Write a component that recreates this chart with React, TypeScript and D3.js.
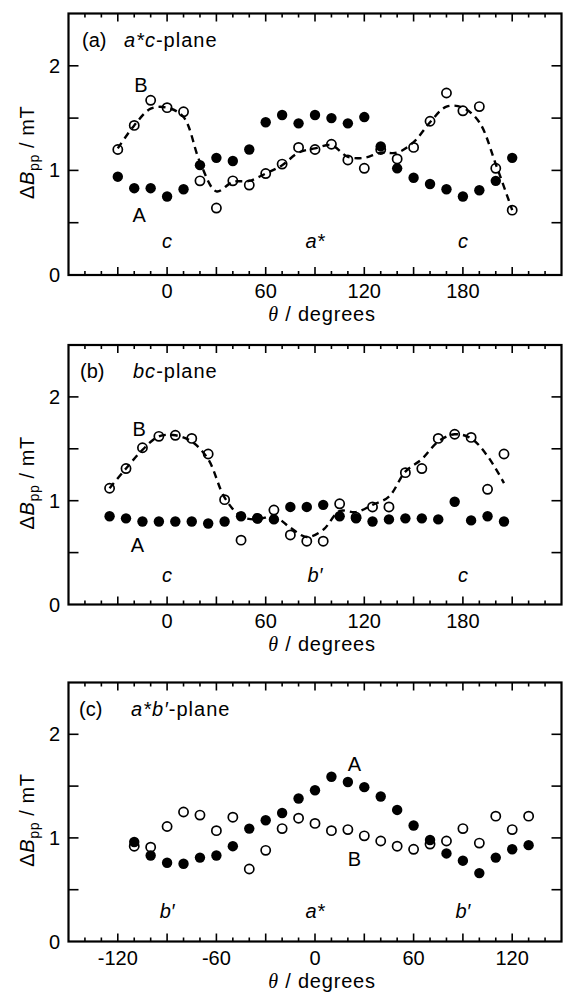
import React from "react"
import * as d3 from "d3"

// (a) a*c-plane
const acTheta = [-30, -20, -10, 0, 10, 20, 30, 40, 50, 60, 70, 80, 90, 100, 110, 120, 130, 140, 150, 160, 170, 180, 190, 200, 210]
const acA = [0.94, 0.83, 0.83, 0.75, 0.82, 1.05, 1.12, 1.09, 1.2, 1.46, 1.53, 1.45, 1.53, 1.5, 1.45, 1.51, 1.23, 1.02, 0.93, 0.87, 0.82, 0.75, 0.81, 0.9, 1.12]
const acB = [1.2, 1.43, 1.67, 1.6, 1.56, 0.9, 0.64, 0.9, 0.86, 0.97, 1.06, 1.22, 1.2, 1.25, 1.1, 1.02, 1.2, 1.11, 1.22, 1.47, 1.74, 1.57, 1.61, 1.02, 0.62]
const acFit = [1.21, 1.43, 1.59, 1.6, 1.51, 1.08, 0.8, 0.89, 0.9, 0.97, 1.05, 1.17, 1.21, 1.24, 1.13, 1.12, 1.17, 1.17, 1.27, 1.46, 1.61, 1.6, 1.46, 1.06, 0.62]

// (b) bc-plane
const bcTheta = [-35, -25, -15, -5, 5, 15, 25, 35, 45, 55, 65, 75, 85, 95, 105, 115, 125, 135, 145, 155, 165, 175, 185, 195, 205]
const bcA = [0.85, 0.83, 0.8, 0.8, 0.8, 0.8, 0.78, 0.8, 0.85, 0.83, 0.82, 0.94, 0.94, 0.96, 0.85, 0.83, 0.8, 0.82, 0.83, 0.83, 0.82, 0.99, 0.81, 0.85, 0.8]
const bcB = [1.12, 1.31, 1.51, 1.62, 1.63, 1.6, 1.45, 1.01, 0.62, 0.83, 0.91, 0.67, 0.61, 0.61, 0.97, 0.84, 0.94, 0.94, 1.27, 1.31, 1.6, 1.64, 1.61, 1.11, 1.45]
const bcFit = [1.12, 1.31, 1.49, 1.62, 1.63, 1.57, 1.4, 1.03, 0.85, 0.82, 0.85, 0.74, 0.65, 0.72, 0.9, 0.89, 0.96, 1.04, 1.28, 1.4, 1.57, 1.64, 1.6, 1.43, 1.17]

// (c) a*b'-plane
const abTheta = [-110, -100, -90, -80, -70, -60, -50, -40, -30, -20, -10, 0, 10, 20, 30, 40, 50, 60, 70, 80, 90, 100, 110, 120, 130]
const abA = [0.96, 0.83, 0.76, 0.75, 0.81, 0.83, 0.92, 1.09, 1.17, 1.24, 1.38, 1.46, 1.59, 1.54, 1.49, 1.4, 1.27, 1.12, 0.98, 0.85, 0.78, 0.66, 0.81, 0.89, 0.93]
const abB = [0.92, 0.91, 1.11, 1.25, 1.22, 1.07, 1.2, 0.7, 0.88, 1.09, 1.19, 1.14, 1.07, 1.08, 1.02, 0.97, 0.92, 0.89, 0.94, 0.97, 1.09, 0.95, 1.21, 1.08, 1.21]

const yTickLabels = [0, 1, 2]

const W = 564
const H = 992
const LEFT = 68.5
const RIGHT = 561.5
const FONT = "'Liberation Sans', Arial, Helvetica, sans-serif"

const panels = [
  {
    tag: "(a)", tagX: 82, titleX: 124, title: [["a*c", true], ["-plane", false]],
    top: 13.5, bottom: 275, xDomain: [-60, 240], xTicks: [0, 60, 120, 180],
    theta: acTheta, A: acA, B: acB, fit: acFit,
    notes: [["B", -16, 1.75, false], ["A", -17, 0.51, false], ["c", 0, 0.26, true], ["a*", 90, 0.26, true], ["c", 180, 0.26, true]],
  },
  {
    tag: "(b)", tagX: 80, titleX: 133, title: [["bc", true], ["-plane", false]],
    top: 345, bottom: 604.5, xDomain: [-60, 240], xTicks: [0, 60, 120, 180],
    theta: bcTheta, A: bcA, B: bcB, fit: bcFit,
    notes: [["B", -17, 1.62, false], ["A", -18, 0.51, false], ["c", 0, 0.22, true], ["b\u2032", 90, 0.22, true], ["c", 180, 0.22, true]],
  },
  {
    tag: "(c)", tagX: 79, titleX: 131, title: [["a*b\u2032", true], ["-plane", false]],
    top: 682.5, bottom: 941.5, xDomain: [-150, 150], xTicks: [-120, -60, 0, 60, 120],
    theta: abTheta, A: abA, B: abB, fit: null,
    notes: [["A", 24, 1.65, false], ["B", 24, 0.73, false], ["b\u2032", -90, 0.23, true], ["a*", 0, 0.23, true], ["b\u2032", 90, 0.23, true]],
  },
]

function Panel({ p }: { p: any }) {
  const x = d3.scaleLinear().domain(p.xDomain).range([LEFT, RIGHT])
  const y = d3.scaleLinear().domain([0, 2.5]).range([p.bottom, p.top])
  const minor = d3.range(p.xDomain[0] + 10, p.xDomain[1], 10)
  const yMinor = d3.range(0.5, 2.5, 0.5)
  const line = d3
    .line<number>()
    .x((d, i) => x(p.theta[i]))
    .y(d => y(d))
    .curve(d3.curveCatmullRom.alpha(0.5))
  const midY = (p.top + p.bottom) / 2 + 8

  return (
    <g>
      {/* ticks */}
      <g stroke="#000" strokeWidth={1.6}>
        {minor.map(t => {
          const len = t % 30 === 0 ? 8 : 4
          return (
            <g key={"xt" + t}>
              <line x1={x(t)} x2={x(t)} y1={p.bottom} y2={p.bottom - len} />
              <line x1={x(t)} x2={x(t)} y1={p.top} y2={p.top + len} />
            </g>
          )
        })}
        {yMinor.map(v => (
          <g key={"yt" + v}>
            <line x1={LEFT} x2={LEFT + 10} y1={y(v)} y2={y(v)} />
            <line x1={RIGHT} x2={RIGHT - 10} y1={y(v)} y2={y(v)} />
          </g>
        ))}
      </g>
      <rect x={LEFT} y={p.top} width={RIGHT - LEFT} height={p.bottom - p.top} fill="none" stroke="#000" strokeWidth={2.2} />

      {/* tick labels */}
      <g fontFamily={FONT} fontSize={20} fill="#000">
        {p.xTicks.map((t: number) => (
          <text key={"xl" + t} x={x(t)} y={p.bottom + 23} textAnchor="middle">{t}</text>
        ))}
        {yTickLabels.map(v => (
          <text key={"yl" + v} x={60} y={y(v) + 7} textAnchor="end">{v}</text>
        ))}
      </g>

      {/* axis titles */}
      <text x={322} y={p.bottom + 46} textAnchor="middle" fontFamily={FONT} fontSize={20} letterSpacing={0.8}>
        <tspan fontFamily="'Liberation Serif', 'Times New Roman', serif" fontStyle="italic">θ</tspan>
        <tspan>{"  / degrees"}</tspan>
      </text>
      <text transform={`translate(34,${midY}) rotate(-90)`} textAnchor="middle" fontFamily={FONT} fontSize={20} letterSpacing={0.6}>
        <tspan>Δ</tspan>
        <tspan fontStyle="italic">B</tspan>
        <tspan fontSize={14} dy={5}>pp</tspan>
        <tspan dy={-5}>{" / mT"}</tspan>
      </text>

      {/* panel labels */}
      <text x={p.tagX} y={p.top + 33} fontFamily={FONT} fontSize={20}>{p.tag}</text>
      <text x={p.titleX} y={p.top + 33} fontFamily={FONT} fontSize={20} letterSpacing={1}>
        {p.title.map(([s, it]: [string, boolean], i: number) => (
          <tspan key={i} fontStyle={it ? "italic" : "normal"}>{s}</tspan>
        ))}
      </text>

      {/* fitted dashed curve */}
      {p.fit && (
        <path d={line(p.fit) || ""} fill="none" stroke="#000" strokeWidth={2.4} strokeDasharray="7,5" />
      )}

      {/* series B: open circles */}
      {p.B.map((v: number, i: number) => (
        <circle key={"b" + i} cx={x(p.theta[i])} cy={y(v)} r={4.6} fill="none" stroke="#000" strokeWidth={1.7} />
      ))}
      {/* series A: filled circles */}
      {p.A.map((v: number, i: number) => (
        <circle key={"a" + i} cx={x(p.theta[i])} cy={y(v)} r={5.2} fill="#000" />
      ))}

      {/* annotations */}
      {p.notes.map(([s, t, v, it]: [string, number, number, boolean], i: number) => (
        <text key={"n" + i} x={x(t)} y={y(v)} textAnchor="middle" fontFamily={FONT} fontSize={20} fontStyle={it ? "italic" : "normal"}>
          {s}
        </text>
      ))}
    </g>
  )
}

export default function App() {
  return (
    <svg width={W} height={H} viewBox={`0 0 ${W} ${H}`} style={{ position: "absolute", left: 0, top: 0, background: "#fff" }}>
      {panels.map(p => (
        <Panel key={p.tag} p={p} />
      ))}
    </svg>
  )
}
